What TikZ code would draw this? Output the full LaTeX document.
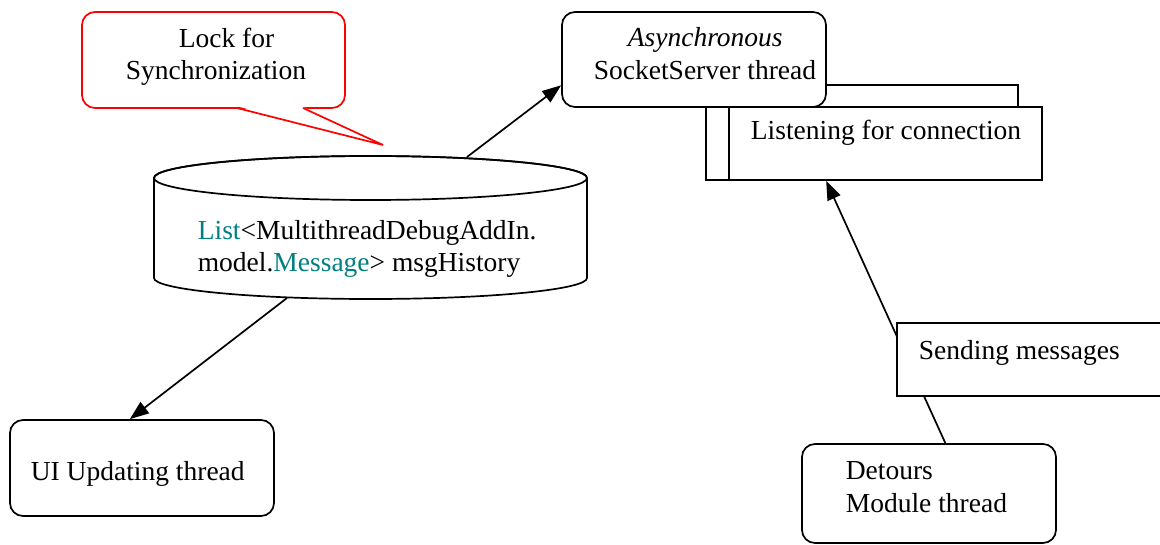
\documentclass[tikz,border=0pt]{standalone}
\usepackage{fontspec}
\setmainfont{Liberation Serif}
\usetikzlibrary{arrows.meta}
\definecolor{tealtxt}{RGB}{0,128,128}
\definecolor{callred}{RGB}{255,0,0}
\begin{document}
\begin{tikzpicture}[x=1pt,y=-1pt, line width=1.7pt,
  txt/.style={font=\fontsize{27.5}{32}\selectfont, inner sep=0pt, anchor=base west},
  rbox/.style={draw, fill=white, rounded corners=13pt, inner sep=0pt},
  pbox/.style={draw, fill=white, inner sep=0pt, sharp corners},
  arr/.style={-{Triangle[length=19pt,width=14pt]}}]
\useasboundingbox (0,0) rectangle (1160,545);

% callout
\node[rbox, draw=callred, minimum width=263pt, minimum height=96pt] (call) at (213.5,60) {};
\fill[white] (238,106.5) -- (383,145) -- (302,106.5) -- cycle;
\draw[callred] (237,108) -- (383,145) -- (303,108);
\node[txt] (tlock) at (178,48) {Lock for};
\node[txt] (tsync) at (125,80) {Synchronization};

% cylinder
\draw[fill=white] (154,178) -- (154,278)
  arc[start angle=180, end angle=0, x radius=216.5, y radius=21]
  -- (587,178)
  arc[start angle=0, end angle=-180, x radius=216.5, y radius=22] -- cycle;
\draw (370.5,178) ellipse[x radius=216.5, y radius=22];
\coordinate (cyltop) at (467,157);
\coordinate (cylbot) at (287,298);
\node[txt] (tlist) at (197,240) {\textcolor{tealtxt}{List}\textless MultithreadDebugAddIn.};
\node[txt] (tmodel) at (197,272) {model.\textcolor{tealtxt}{Message}\textgreater{} msgHistory};

% listening stack
\node[pbox, minimum width=288pt, minimum height=95pt] (back) at (874,132.5) {};
\node[pbox, minimum width=336pt, minimum height=73pt] (listen) at (874,143.5) {};
\draw ([xshift=24pt]listen.north west) -- ([xshift=24pt]listen.south west);
\node[txt] (tlisten) at (750,140) {Listening for connection};

% async box
\node[rbox, minimum width=264pt, minimum height=95pt] (async) at (694,59.5) {};
\node[txt] (tasync) at (627,47) {\textit{Asynchronous}};
\node[txt] (tsock) at (593,80) {SocketServer thread};

% UI box
\node[rbox, minimum width=264pt, minimum height=96pt] (ui) at (142,468) {};
\node[txt] (tui) at (30,480) {UI Updating thread};

% Detours box
\node[rbox, minimum width=254pt, minimum height=99pt] (det) at (929,493.5) {};
\node[txt] (tdet) at (845,479) {Detours};
\node[txt] (tmod) at (845,512) {Module thread};

% connectors
\draw[arr] (cyltop) -- (async.191);
\draw[arr] (cylbot) -- (ui.104);
\draw[arr] (det.72) -- (listen.218);

% sending box (covers the line)
\node[pbox, minimum width=273pt, minimum height=73pt] (send) at (1033.5,359.5) {};
\node[txt] (tsend) at (918,360) {Sending messages};
\end{tikzpicture}
\end{document}
